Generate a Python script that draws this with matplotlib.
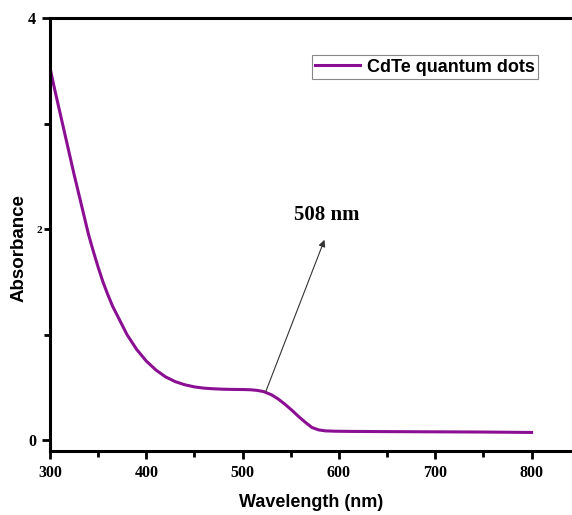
import matplotlib
matplotlib.use('Agg')
import matplotlib.pyplot as plt
from matplotlib.ticker import MultipleLocator, FixedLocator, FuncFormatter

# absorption spectrum of CdTe quantum dots
wavelength = [300, 305, 310, 315, 320, 325, 330, 335, 340, 345, 350, 355, 360,
              365, 370, 375, 380, 385, 390, 400, 410, 420, 430, 440, 450, 460,
              470, 480, 490, 500, 508, 515, 522, 530, 537, 544, 551, 558, 565,
              572, 579, 586, 595, 610, 650, 700, 750, 800]
absorbance = [3.53, 3.32, 3.12, 2.92, 2.72, 2.52, 2.33, 2.14, 1.95, 1.79, 1.64,
              1.50, 1.38, 1.27, 1.18, 1.09, 1.00, 0.93, 0.86, 0.75, 0.665, 0.60,
              0.555, 0.525, 0.505, 0.493, 0.487, 0.483, 0.481, 0.480, 0.478,
              0.472, 0.46, 0.43, 0.39, 0.34, 0.285, 0.225, 0.17, 0.12, 0.097,
              0.088, 0.085, 0.083, 0.081, 0.079, 0.077, 0.073]

peak_label = '508 nm'
arrow_tail = (524, 0.46)
arrow_head = (585, 1.90)
label_pos = (587, 2.04)

serif = 'Liberation Serif'
sans = 'Liberation Sans'
purple = '#8b0f93'

fig = plt.figure(figsize=(5.72, 5.15), dpi=100)
ax = fig.add_axes([50 / 572, 1 - 450.7 / 515, 1 - 50 / 572, (450.7 - 18.3) / 515])

ax.plot(wavelength, absorbance, color=purple, linewidth=2.2, label='CdTe quantum dots')

ax.annotate('', xy=arrow_head, xytext=arrow_tail,
            arrowprops=dict(arrowstyle='-|>', color='#333333', lw=0.8,
                            mutation_scale=10, shrinkA=0, shrinkB=0))
ax.text(*label_pos, peak_label, ha='center', va='bottom',
        fontfamily=serif, fontweight='bold', fontsize=15)

ax.set_xlim(300, 842)
ax.set_ylim(-0.1, 4)

ax.xaxis.set_major_locator(MultipleLocator(100))
ax.xaxis.set_minor_locator(MultipleLocator(50))
ax.yaxis.set_major_locator(FixedLocator([0, 4]))
ax.yaxis.set_minor_locator(FixedLocator([1, 2, 3]))
ax.yaxis.set_minor_formatter(FuncFormatter(lambda v, p: '2' if v == 2 else ''))

ax.spines['right'].set_visible(False)
for s in ['left', 'bottom', 'top']:
    ax.spines[s].set_linewidth(2.2)

ax.tick_params(which='major', direction='out', length=6, width=2, pad=4,
               labelsize=11.5)
ax.tick_params(which='minor', direction='out', length=4, width=2, pad=2)
ax.tick_params(axis='y', which='minor', labelsize=8)
ax.tick_params(top=False, right=False, which='both')
for lab in ax.get_xticklabels() + ax.get_yticklabels() + ax.get_yticklabels(minor=True):
    lab.set_fontfamily(serif)
    lab.set_fontweight('bold')

ax.set_xlabel('Wavelength (nm)', fontfamily=sans, fontweight='bold', fontsize=13,
              labelpad=10)
ax.set_ylabel('Absorbance', fontfamily=sans, fontweight='bold', fontsize=13.5)
ax.yaxis.set_label_coords(-22 / 522, 0.469)

leg = ax.legend(loc='upper right', bbox_to_anchor=(0.935, 0.915), borderaxespad=0,
                prop=dict(family=sans, weight='bold', size=13), fancybox=False,
                frameon=True, handlelength=2.5, handletextpad=0.35,
                borderpad=0.2, framealpha=1)
leg.get_frame().set_edgecolor('#888888')
leg.get_frame().set_linewidth(0.8)

fig.savefig('out.png', dpi=100)
